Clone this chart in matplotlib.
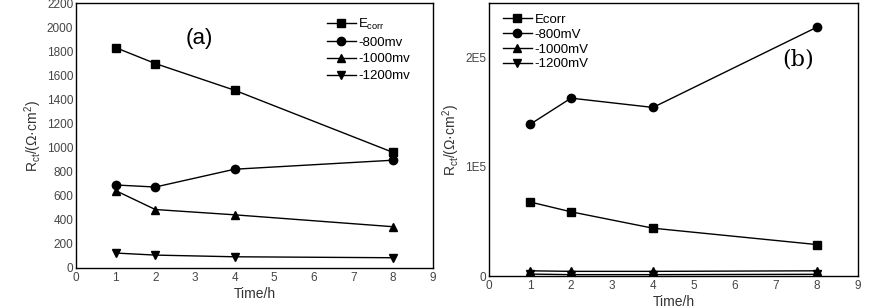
import matplotlib
matplotlib.use('Agg')
import matplotlib.pyplot as plt

plt.rcParams['font.family'] = ['Liberation Sans', 'DejaVu Sans']

# Immersion times (h)
time_h = [1, 2, 4, 8]

# Panel (a): Rct values
a_ecorr = [1832, 1700, 1478, 961]
a_800 = [690, 673, 821, 896]
a_1000 = [643, 486, 442, 343]
a_1200 = [124, 107, 93, 85]
a_labels = [r'E$_{\mathregular{corr}}$', '-800mv', '-1000mv', '-1200mv']

# Panel (b): Rct values
b_ecorr = [68000, 59000, 44000, 29000]
b_800 = [139000, 163000, 154500, 228000]
b_1000 = [5000, 4500, 4500, 5000]
b_1200 = [2000, 1500, 1500, 1800]
b_labels = ['Ecorr', '-800mV', '-1000mV', '-1200mV']

markers = ['s', 'o', '^', 'v']

fig = plt.figure(figsize=(8.74, 3.08), dpi=100)
ax1 = fig.add_axes([0.087, 0.13, 0.408, 0.859])
ax2 = fig.add_axes([0.5595, 0.103, 0.4222, 0.887])


def draw(ax, series, labels):
    for ys, m, lab in zip(series, markers, labels):
        ax.plot(time_h, ys, color='black', lw=1, marker=m, ms=6, label=lab)
    ax.set_xlim(0, 9)
    ax.set_xticks(range(10))
    ax.tick_params(direction='in', length=0, labelsize=8.5, labelcolor='#444444', pad=1)
    ax.tick_params(axis='x', pad=3)
    ax.tick_params(axis='y', pad=2)
    for s in ax.spines.values():
        s.set_linewidth(1)
    ax.set_xlabel('Time/h', fontsize=10, color='#333333', labelpad=2)
    ax.set_ylabel(r'R$_{\mathregular{ct}}$/($\mathregular{\Omega}$·cm$^{\mathregular{2}}$)',
                  fontsize=10, color='#333333', labelpad=2)


draw(ax1, [a_ecorr, a_800, a_1000, a_1200], a_labels)
ax1.set_ylim(0, 2200)
ax1.set_yticks(range(0, 2201, 200))
ax1.text(3.1, 1905, '(a)', fontsize=16, ha='center', va='center')
ax1.legend(loc='upper right', bbox_to_anchor=(0.97, 0.995), frameon=False, fontsize=9.5,
           handlelength=2.2, handletextpad=0.2, labelspacing=0.35)

draw(ax2, [b_ecorr, b_800, b_1000, b_1200], b_labels)
ax2.set_ylim(0, 250000)
ax2.set_yticks([0, 100000, 200000])
ax2.set_yticklabels(['0', '1E5', '2E5'])
ax2.text(7.55, 198000, '(b)', fontsize=16, family='DejaVu Serif', ha='center', va='center')
ax2.legend(loc='upper left', bbox_to_anchor=(0.005, 1.005), frameon=False, fontsize=9.5,
           handlelength=2.2, handletextpad=0.2, labelspacing=0.2)

fig.savefig('out.png', dpi=100)
